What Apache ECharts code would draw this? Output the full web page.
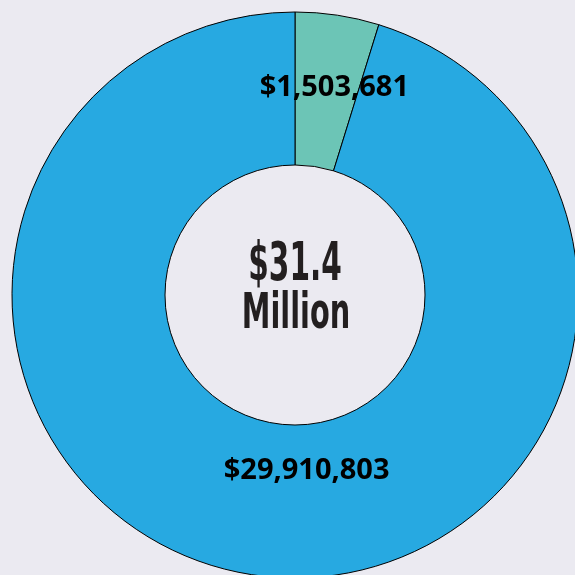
<!DOCTYPE html>
<html><head><meta charset="utf-8">
<script src="https://cdn.jsdelivr.net/npm/echarts@6/dist/echarts.min.js"></script>
<style>html,body{margin:0;padding:0;background:#EBEAF1;}#c{width:575px;height:575px;}</style>
</head><body><div id="c"></div>
<script>
const categories = ['Segment A', 'Segment B'];
const values = [1503681, 29910803];
const colors = ['#6CC5B6', '#27A9E1'];
const centerLines = ['$31.4', 'Million'];

const chart = echarts.init(document.getElementById('c'), null, {renderer: 'canvas'});
const fmt = v => '$' + v.toLocaleString('en-US');
const labelShift = [[8, 0], [43, -31]];
chart.setOption({
  backgroundColor: '#EBEAF1',
  animation: false,
  series: [{
    type: 'pie',
    center: [295, 295],
    radius: [130, 283],
    startAngle: 90,
    clockwise: true,
    avoidLabelOverlap: false,
    itemStyle: {borderColor: '#000', borderWidth: 1},
    label: {
      show: true, position: 'inside',
      formatter: p => fmt(p.value),
      color: '#000', fontFamily: 'Open Sans', fontWeight: 'bold', fontSize: 29
    },
    labelLine: {show: false},
    labelLayout: p => ({dx: labelShift[p.dataIndex][0], dy: labelShift[p.dataIndex][1]}),
    data: categories.map((c, i) => ({name: c, value: values[i], itemStyle: {color: colors[i]}}))
  }],
  graphic: [{
    type: 'text', x: 295, y: 266, scaleX: 0.62,
    style: {text: centerLines[0], textAlign: 'center', textVerticalAlign: 'middle',
      font: 'bold 53px "Liberation Sans Narrow", "DejaVu Sans Condensed", sans-serif', fill: '#231F20'}
  }, {
    type: 'text', x: 296, y: 315, scaleX: 0.64,
    style: {text: centerLines[1], textAlign: 'center', textVerticalAlign: 'middle',
      font: 'bold 50px "Liberation Sans Narrow", "DejaVu Sans Condensed", sans-serif', fill: '#231F20'}
  }]
});
</script></body></html>
